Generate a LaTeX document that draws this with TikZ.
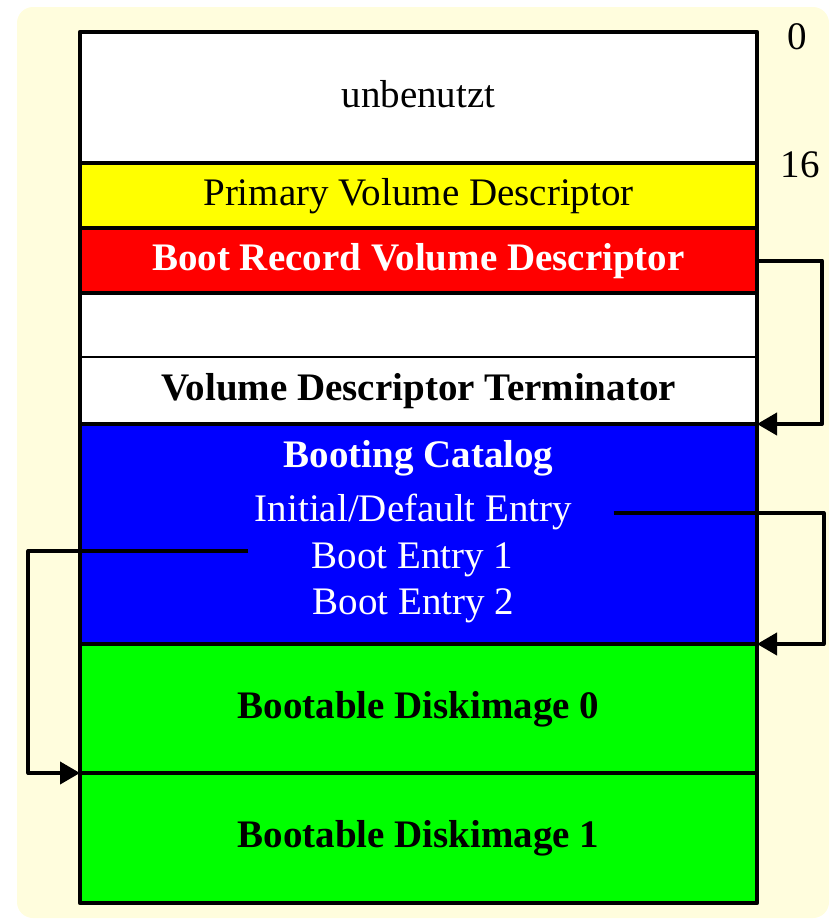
\documentclass[tikz,border=0pt]{standalone}
\usepackage{fontspec}
\setmainfont{Liberation Serif}
\usetikzlibrary{arrows.meta}
\definecolor{bgyellow}{HTML}{FFFDDD}
\definecolor{pvdyellow}{HTML}{FFFF00}
\definecolor{brred}{HTML}{FF0000}
\definecolor{catblue}{HTML}{0000FF}
\definecolor{imggreen}{HTML}{00FF00}
\begin{document}
\begin{tikzpicture}[x=0.5pt, y=-0.5pt, line join=round,
    row/.style={anchor=north west, minimum width=338.5pt, inner sep=0pt, outer sep=0pt,
        text height=13.65pt, text depth=3.9pt, font=\fontsize{19.5}{23}\selectfont},
    txt/.style={anchor=base, inner sep=0pt, font=\fontsize{19.5}{23}\selectfont},
    sep/.style={line width=2pt, black},
    thinsep/.style={line width=0.8pt, black},
    link/.style={line width=2pt, black, -{Triangle[length=10pt, width=11pt]}}]
    \useasboundingbox (0,0) rectangle (830,921);
    \fill[bgyellow, rounded corners=8pt] (17,7) rectangle (829,918);

    \node[row, fill=white, minimum height=65.5pt] (unused) at (80,32) {unbenutzt};
    \node[row, fill=pvdyellow, minimum height=32.5pt] (pvd) at (80,163) {Primary Volume Descriptor};
    \node[row, fill=brred, text=white, minimum height=32.5pt] (brvd) at (80,228) {\bfseries Boot Record Volume Descriptor};
    \node[row, fill=white, minimum height=32pt] (empty) at (80,293) {};
    \node[row, fill=white, minimum height=33.5pt] (vdt) at (80,357) {\bfseries Volume Descriptor Terminator};
    \node[row, fill=catblue, minimum height=110pt] (bcat) at (80,424) {};
    \node[row, fill=imggreen, minimum height=64.5pt] (img0) at (80,644) {\bfseries Bootable Diskimage 0};
    \node[row, fill=imggreen, minimum height=65pt] (img1) at (80,773) {\bfseries Bootable Diskimage 1};

    \node[txt, text=white] (cattitle) at (418.5,467) {\bfseries Booting Catalog};
    \node[txt, text=white] (ent0) at (413.5,521) {Initial/Default Entry};
    \node[txt, text=white] (ent1) at (412.5,568) {Boot Entry 1};
    \node[txt, text=white] (ent2) at (413.5,614) {Boot Entry 2};

    \node[txt] (sec0) at (797,49) {0};
    \node[txt] (sec16) at (800,177) {16};

    \draw[sep] (unused.south west) -- (unused.south east);
    \draw[sep] (pvd.south west) -- (pvd.south east);
    \draw[sep] (brvd.south west) -- (brvd.south east);
    \draw[thinsep] (empty.south west) -- (empty.south east);
    \draw[sep] (vdt.south west) -- (vdt.south east);
    \draw[sep] (bcat.south west) -- (bcat.south east);
    \draw[sep] (img0.south west) -- (img0.south east);
    \draw[line width=2.3pt, black] (unused.north west) rectangle (img1.south east);

    \draw[link] (brvd.east) -- ++(32.5pt,0) |- (vdt.south east);
    \draw[link] ([shift={(20.5pt,4pt)}]ent0.base east) -- ++(105pt,0) |- (bcat.south east);
    \draw[link] ([shift={(-31.5pt,8.5pt)}]ent1.base west) -- ++(-110pt,0) |- (img0.south west);
\end{tikzpicture}
\end{document}
